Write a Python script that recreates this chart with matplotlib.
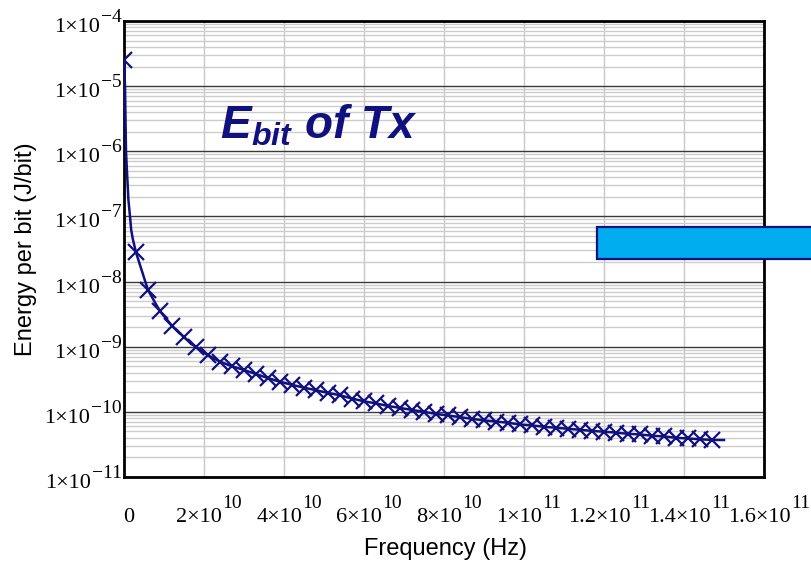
import matplotlib.pyplot as plt
from matplotlib.patches import Rectangle
from matplotlib.ticker import LogLocator, NullFormatter

plt.rcParams['mathtext.fontset'] = 'custom'
plt.rcParams['mathtext.bfit'] = 'Liberation Sans:bold:italic'
plt.rcParams['font.family'] = ['Liberation Sans', 'DejaVu Sans']

# marker points (Hz, J/bit)
marker_freq = [0, 3e9, 6e9, 9e9, 12e9, 15e9, 18e9, 21e9, 24e9, 27e9,
               30e9, 33e9, 36e9, 39e9, 42e9, 45e9, 48e9, 51e9, 54e9, 57e9,
               60e9, 63e9, 66e9, 69e9, 72e9, 75e9, 78e9, 81e9, 84e9, 87e9,
               90e9, 93e9, 96e9, 99e9, 102e9, 105e9, 108e9, 111e9, 114e9, 117e9,
               120e9, 123e9, 126e9, 129e9, 132e9, 135e9, 138e9, 141e9, 144e9, 147e9]
marker_energy = [2.5e-5, 2.8e-8, 7.4e-9, 3.5e-9, 2.1e-9, 1.4e-9, 9.8e-10, 7.4e-10, 5.9e-10, 5.0e-10,
                 4.4e-10, 3.8e-10, 3.3e-10, 2.9e-10, 2.6e-10, 2.35e-10, 2.15e-10, 1.95e-10, 1.8e-10, 1.6e-10,
                 1.45e-10, 1.35e-10, 1.23e-10, 1.15e-10, 1.07e-10, 1.0e-10, 9.3e-11, 8.8e-11, 8.3e-11, 7.8e-11,
                 7.4e-11, 7.1e-11, 6.8e-11, 6.4e-11, 6.2e-11, 5.9e-11, 5.7e-11, 5.5e-11, 5.3e-11, 5.1e-11,
                 4.95e-11, 4.8e-11, 4.6e-11, 4.5e-11, 4.3e-11, 4.2e-11, 4.0e-11, 3.9e-11, 3.8e-11, 3.7e-11]

# extra points of the line near zero and at the end
start_freq = [0, 2.5e8, 5e8, 7.5e8, 1.1e9, 1.5e9, 1.8e9, 2.2e9]
start_energy = [2.5e-5, 1e-5, 1e-6, 4.8e-7, 1.8e-7, 1e-7, 6.2e-8, 4.5e-8]
end_freq = [1.5e11]
end_energy = [3.7e-11]

line_freq = start_freq + marker_freq[1:] + end_freq
line_energy = start_energy + marker_energy[1:] + end_energy

x_ticks = [0, 2e10, 4e10, 6e10, 8e10, 1e11, 1.2e11, 1.4e11, 1.6e11]
x_bases = ['0', '2×10', '4×10', '6×10', '8×10', '1×10', '1.2×10', '1.4×10', '1.6×10']
x_exps = ['', '10', '10', '10', '10', '11', '11', '11', '11']
y_ticks = [1e-11, 1e-10, 1e-9, 1e-8, 1e-7, 1e-6, 1e-5, 1e-4]
y_exps = ['\u221211', '\u221210', '\u22129', '\u22128', '\u22127', '\u22126', '\u22125', '\u22124']

navy = '#10107f'
serif = 'Liberation Serif'

fig = plt.figure(figsize=(8.11, 5.64), dpi=100)
ax = fig.add_axes([124 / 811, 1 - 477 / 564, 640 / 811, 456 / 564])

ax.plot(line_freq, line_energy, color=navy, lw=1.8, zorder=3)
ax.plot(marker_freq, marker_energy, ls='none', marker='x', ms=12, mew=1.6,
        color=navy, zorder=4)

ax.set_yscale('log')
ax.set_xlim(0, 1.6e11)
ax.set_ylim(1e-11, 1e-4)

ax.set_xticks(x_ticks)
ax.set_yticks(y_ticks)
ax.yaxis.set_minor_locator(LogLocator(base=10, subs=range(2, 10), numticks=20))
ax.yaxis.set_minor_formatter(NullFormatter())
ax.tick_params(which='both', length=0, labelbottom=False, labelleft=False)

ax.grid(which='major', axis='x', color='#c8c8c8', lw=1)
ax.grid(which='major', axis='y', color='#3a3a3a', lw=1)
ax.grid(which='minor', axis='y', color='#cccccc', lw=1)
ax.set_axisbelow(True)

for sp in ax.spines.values():
    sp.set_linewidth(2)
    sp.set_color('black')

renderer = fig.canvas.get_renderer()

# y tick labels: 1x10 with a full-size raised exponent
for val, ex in zip(y_ticks, y_exps):
    e = ax.annotate(ex, xy=(0, val), xycoords=('axes fraction', 'data'),
                    xytext=(-2, -1), textcoords='offset pixels',
                    ha='right', va='baseline', family=serif, fontsize=14)
    w = e.get_window_extent(renderer).width
    ax.annotate('1×10', xy=(0, val), xycoords=('axes fraction', 'data'),
                xytext=(-3 - w, -11), textcoords='offset pixels',
                ha='right', va='baseline', family=serif, fontsize=16)

# x tick labels
for val, base, ex in zip(x_ticks, x_bases, x_exps):
    b = ax.annotate(base, xy=(val, 0), xycoords=('data', 'axes fraction'),
                    xytext=(0, -45), textcoords='offset pixels',
                    ha='left', va='baseline', family=serif, fontsize=16)
    wb = b.get_window_extent(renderer).width
    we = 0
    if ex:
        e = ax.annotate(ex, xy=(val, 0), xycoords=('data', 'axes fraction'),
                        xytext=(0, -31), textcoords='offset pixels',
                        ha='left', va='baseline', family=serif, fontsize=14)
        we = e.get_window_extent(renderer).width
        e.set_position((5 - (wb + we) / 2 + wb, -31))
    b.set_position((5 - (wb + we) / 2, -45))

ax.set_ylabel('Energy per bit (J/bit)', fontsize=17)
ax.set_xlabel('Frequency (Hz)', fontsize=17)
ax.yaxis.set_label_coords(-0.136, 0.5)
ax.xaxis.set_label_coords(0.502, -0.133)

fig.text(220 / 811, 1 - 138 / 564, r'$\mathbfit{E}_{\mathbfit{bit}}$ of Tx',
         fontsize=33, fontweight='bold', style='italic', color=navy,
         ha='left', va='baseline')

box = Rectangle((597 / 811, 1 - 259 / 564), 0.3, 32 / 564, transform=fig.transFigure,
                facecolor='#00aeef', edgecolor=navy, lw=1.6, zorder=10, clip_on=False)
fig.add_artist(box)

fig.savefig('out.png', dpi=100)
